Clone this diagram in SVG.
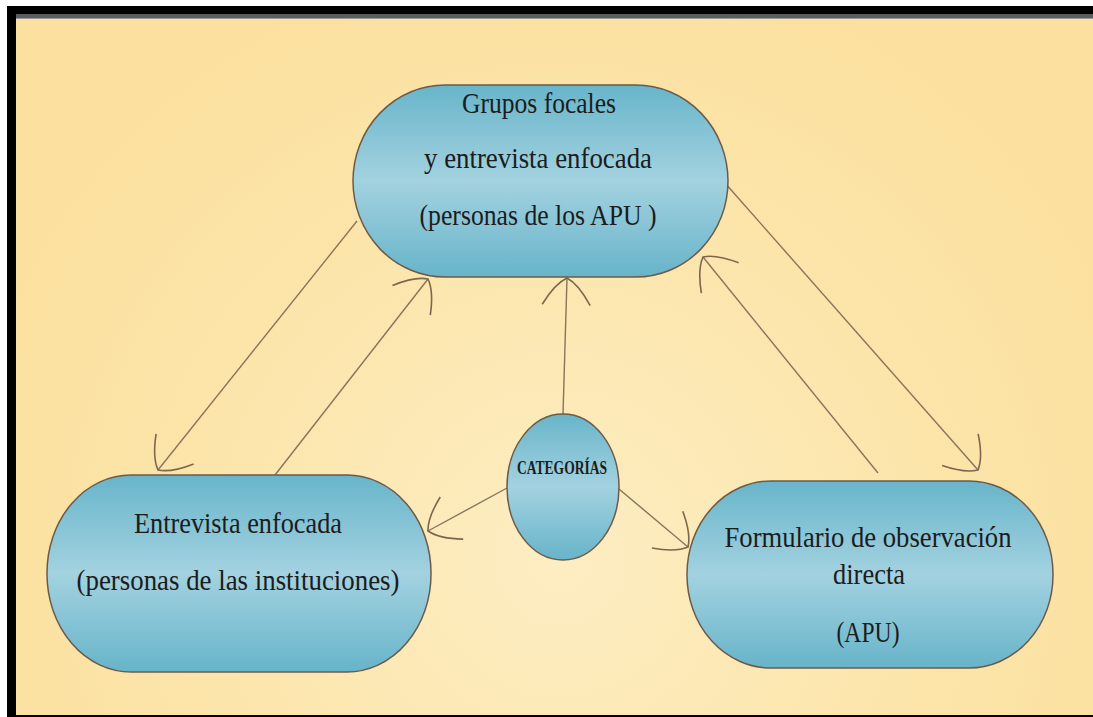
<svg xmlns="http://www.w3.org/2000/svg" width="1093" height="717" viewBox="0 0 1093 717">
<defs>
<radialGradient id="bg" cx="560" cy="560" r="620" gradientUnits="userSpaceOnUse">
<stop offset="0" stop-color="#fdedc2"/>
<stop offset="0.6" stop-color="#fce5aa"/>
<stop offset="1" stop-color="#fbe09f"/>
</radialGradient>
<linearGradient id="nodeFill" x1="0" y1="0" x2="0" y2="1">
<stop offset="0" stop-color="#68b5ca"/>
<stop offset="0.5" stop-color="#a3d2e0"/>
<stop offset="1" stop-color="#67b4c9"/>
</linearGradient>
<marker id="arr" markerUnits="userSpaceOnUse" markerWidth="60" markerHeight="60" refX="0" refY="0" viewBox="-30 -30 60 60" orient="auto" overflow="visible">
<path d="M-27,-24 Q-6,-12 0,0 Q-6,12 -27,24" fill="none" stroke="#7d6650" stroke-width="1.6"/>
</marker>
<style>
.node{fill:url(#nodeFill);stroke:#6e5a48;stroke-width:1.5}
.t{font-family:"Liberation Serif","DejaVu Serif",serif;font-size:30px;fill:#1c1c1c;text-anchor:middle}
.tb{font-family:"Liberation Serif","DejaVu Serif",serif;font-size:19px;font-weight:bold;fill:#1c1c1c;text-anchor:middle}
.c{fill:none;stroke:#8a735d;stroke-width:1.4;marker-end:url(#arr)}
</style>
</defs>
<rect x="0" y="0" width="1093" height="717" fill="#ffffff"/>
<rect x="7" y="6" width="1086" height="711" fill="#000000"/>
<rect x="16" y="14" width="1077" height="5" fill="#5c5c5c"/>
<rect x="16" y="18" width="1077" height="1" fill="#9a9a9a"/>
<rect x="16" y="19" width="1077" height="696" fill="url(#bg)"/>

<g id="connectors">
<line class="c" x1="357" y1="221" x2="158" y2="470"/>
<line class="c" x1="275" y1="475" x2="428" y2="279"/>
<line class="c" x1="563" y1="414" x2="567" y2="278"/>
<line class="c" x1="878" y1="473" x2="703" y2="257"/>
<line class="c" x1="725" y1="183" x2="978" y2="470"/>
<line class="c" x1="507" y1="488" x2="428" y2="531"/>
<line class="c" x1="619" y1="489" x2="688" y2="547"/>
</g>

<g id="node-top">
<rect class="node" x="353" y="85" width="375" height="192" rx="92" ry="96"/>
<text class="t" x="539" y="113" textLength="154" lengthAdjust="spacingAndGlyphs">Grupos focales</text>
<text class="t" x="538" y="168" textLength="228" lengthAdjust="spacingAndGlyphs">y entrevista enfocada</text>
<text class="t" x="538" y="225" textLength="237" lengthAdjust="spacingAndGlyphs">(personas de los APU )</text>
</g>

<g id="node-left">
<rect class="node" x="47" y="475" width="384" height="197" rx="84" ry="98"/>
<text class="t" x="238" y="533" textLength="208" lengthAdjust="spacingAndGlyphs">Entrevista enfocada</text>
<text class="t" x="238" y="590" textLength="323" lengthAdjust="spacingAndGlyphs">(personas de las instituciones)</text>
</g>

<g id="node-right">
<rect class="node" x="687" y="481" width="366" height="187" rx="84" ry="93"/>
<text class="t" x="868" y="547" textLength="287" lengthAdjust="spacingAndGlyphs">Formulario de observación</text>
<text class="t" x="869" y="584" textLength="72" lengthAdjust="spacingAndGlyphs">directa</text>
<text class="t" x="868" y="642" textLength="63" lengthAdjust="spacingAndGlyphs">(APU)</text>
</g>

<g id="node-center">
<ellipse class="node" cx="563" cy="487" rx="56" ry="73"/>
<text class="tb" x="562" y="474" textLength="90" lengthAdjust="spacingAndGlyphs">CATEGORÍAS</text>
</g>
</svg>
